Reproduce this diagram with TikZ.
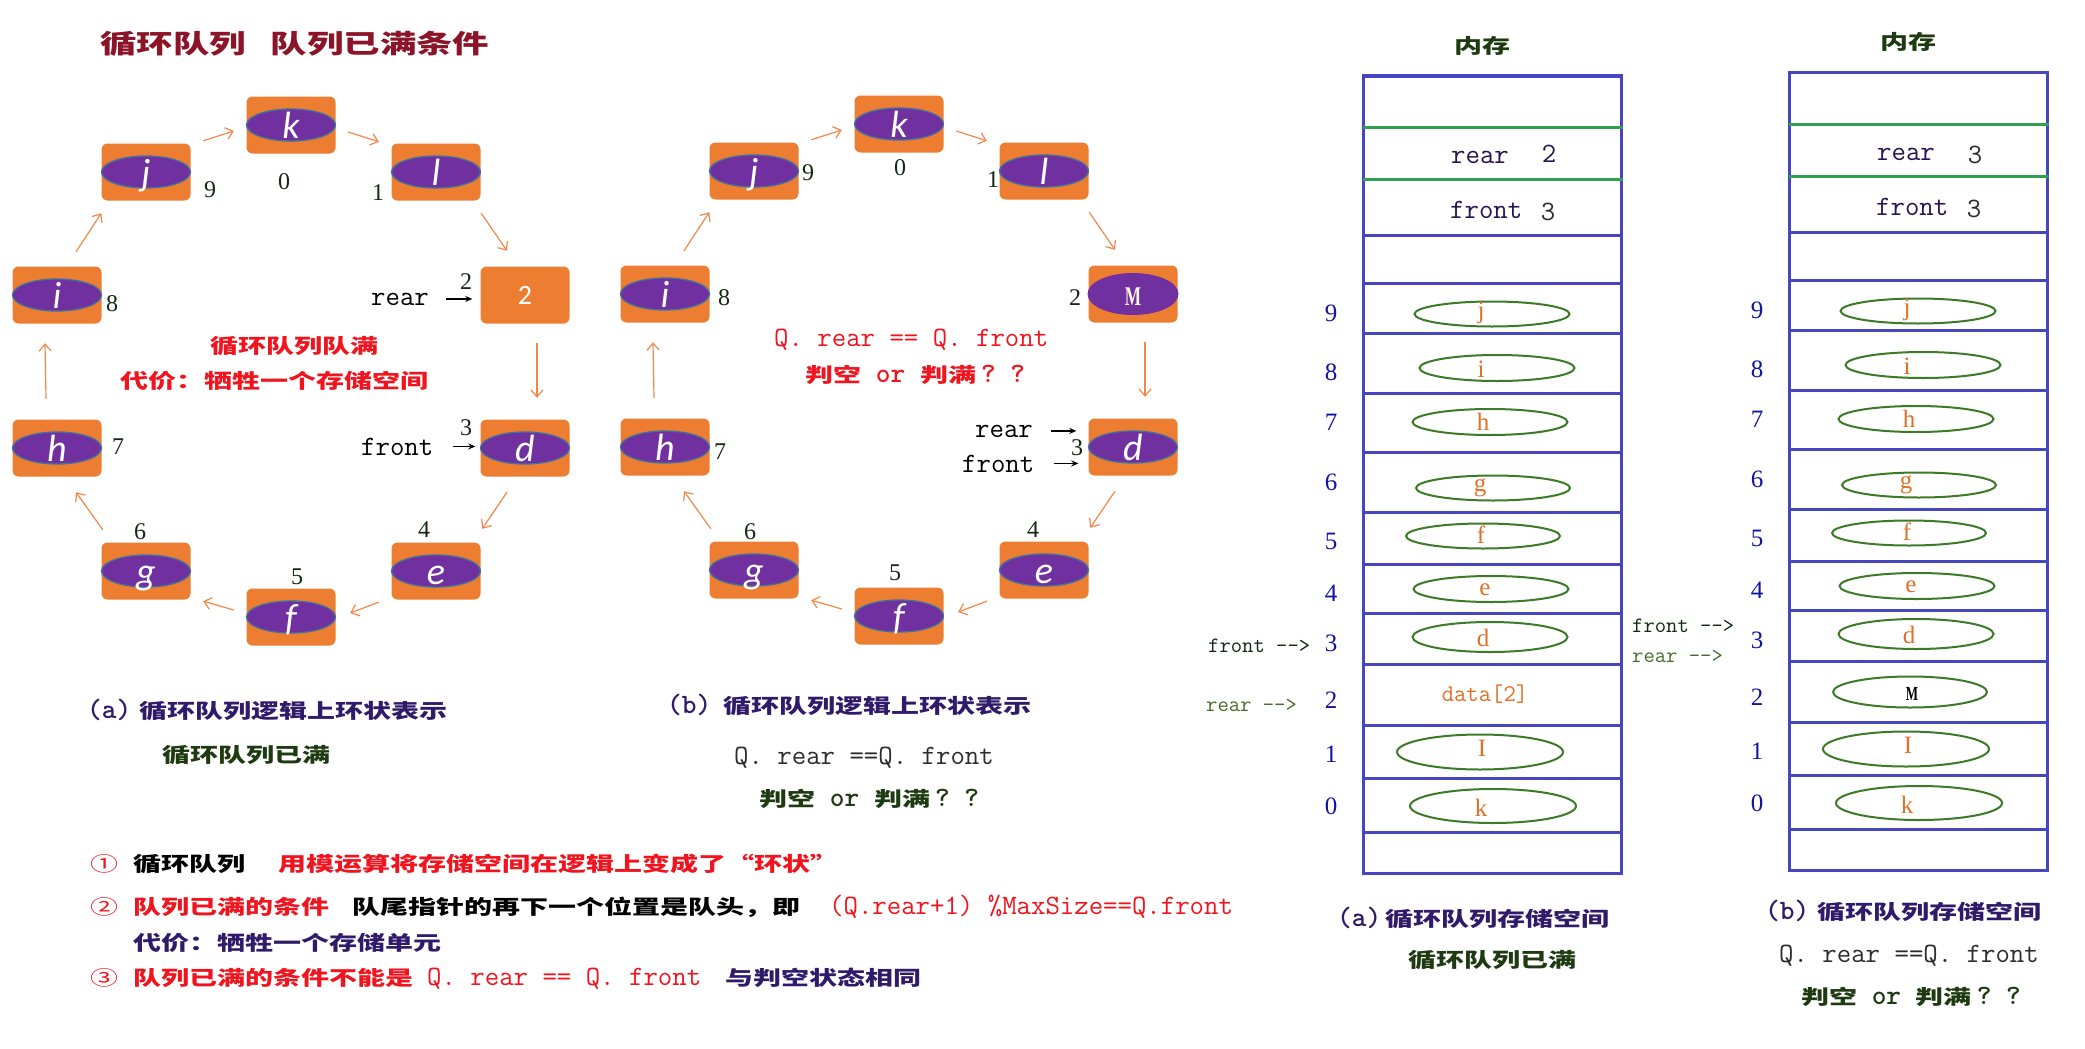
\documentclass[tikz,border=0pt]{standalone}
\usepackage{fontspec}
\setmainfont{Liberation Serif}
\newfontfamily\cjk{Noto Sans CJK SC}
\newfontfamily\carl{Carlito}
\usetikzlibrary{arrows.meta,calc,shapes.geometric}

\definecolor{orng}{RGB}{237,125,49}
\definecolor{purp}{RGB}{112,48,160}
\definecolor{pbord}{RGB}{65,113,156}
\definecolor{arrorng}{RGB}{240,136,74}
\definecolor{titlered}{RGB}{140,20,40}
\definecolor{brred}{RGB}{240,20,30}
\definecolor{navy}{RGB}{48,26,106}
\definecolor{dkgreen}{RGB}{30,58,16}
\definecolor{numgreen}{RGB}{20,40,20}
\definecolor{membl}{RGB}{70,70,190}
\definecolor{memgr}{RGB}{50,160,80}
\definecolor{ellgr}{RGB}{60,122,40}
\definecolor{letor}{RGB}{224,112,40}
\definecolor{idxbl}{RGB}{20,20,160}
\definecolor{mempur}{RGB}{40,20,80}
\definecolor{olive}{RGB}{75,107,46}
\definecolor{cream}{RGB}{255,245,220}
\definecolor{dkgray}{RGB}{45,45,45}

\newcommand\cjt[1]{\scalebox{1.4}[1]{#1}}
\newcommand\lt[1]{{\ttfamily\fontsize{28}{28}\selectfont #1}}
\newcommand\qq{\cjt{判空}\lt{~or~}\cjt{判满}\hspace{5pt}\lt{?~?}}

\tikzset{
  rbox/.style={fill=orng,rounded corners=6pt,minimum width=89pt,minimum height=57pt,inner sep=0pt},
  pell/.style={ellipse,fill=purp,draw=pbord,line width=1.3pt,minimum width=89pt,minimum height=32pt,inner sep=0pt},
  ringletter/.style={text=white,font=\carl\itshape\fontsize{38}{38}\selectfont,inner sep=0pt,anchor=base},
  ridx/.style={text=numgreen,font=\fontsize{24}{24}\selectfont,inner sep=0pt},
  rarr/.style={draw=arrorng,line width=1.2pt,-{Straight Barb[length=7pt,width=12pt]}},
  barr/.style={draw=black,line width=1.2pt,-{Stealth[length=7pt,width=6pt]}},
  lat/.style={font=\ttfamily\fontsize{28}{28}\selectfont,inner sep=0pt,anchor=base west},
  cj/.style={font=\cjk\bfseries\fontsize{20}{20}\selectfont,inner sep=0pt,anchor=base west},
  memline/.style={draw=membl,line width=3pt},
  memgreen/.style={draw=memgr,line width=3pt},
  memell/.style={draw=ellgr,line width=2pt},
  memletter/.style={text=letor,font=\fontsize{25}{25}\selectfont,inner sep=0pt,anchor=base},
  memidx/.style={text=idxbl,font=\fontsize{25}{25}\selectfont,inner sep=0pt},
  memtxt/.style={text=mempur,font=\ttfamily\fontsize{28}{28}\selectfont,inner sep=0pt,anchor=base west},
  ptr/.style={font=\ttfamily\fontsize{22}{22}\selectfont,inner sep=0pt,anchor=base west},
}

\newcommand\ringnode[4]{%
  \node[rbox] (#1) at (#2,#3) {};
  \node[pell] (#1e) at (#1) {};
  \node[ringletter] (#1t) at ($(#1)+(0,13)$) {#4};
}

\newcommand\ringarrows{%
  \draw[rarr] ($(n8.north)+(19,-14.5)$) -- ($(n9.south west)+(0,12.5)$);
  \draw[rarr] ($(n9.north east)+(12.5,-2.5)$) -- ($(n0.west)+(-12.5,6)$);
  \draw[rarr] ($(n0.east)+(12.5,7)$) -- ($(n1.north west)+(-12.5,-1.5)$);
  \draw[rarr] ($(n1.south east)+(0.5,12.5)$) -- ($(n2.north)+(-18,-15.5)$);
  \draw[rarr] ($(n2.south)+(12,19.5)$) -- ($(n3.north)+(12,-21.5)$);
  \draw[rarr] ($(n3.south)+(-18,15.5)$) -- ($(n4.north east)+(1.5,-13.5)$);
  \draw[rarr] ($(n4.south west)+(-12.5,2.5)$) -- ($(n5.east)+(14.5,-4)$);
  \draw[rarr] ($(n5.west)+(-12.5,-7)$) -- ($(n6.south east)+(12.5,1.5)$);
  \draw[rarr] ($(n6.north west)+(1.5,-12.5)$) -- ($(n7.south)+(19,15.5)$);
  \draw[rarr] ($(n7.north)+(-11,-20.5)$) -- ($(n8.south)+(-12,19.5)$);
}

\newcommand\memframe{%
  \draw[memline] (1363,76) rectangle (1621,873);
  \foreach \yy in {235,283,333,393,452,512,564,613,664,725,778,832} {\draw[memline] (1363,\yy) -- (1621,\yy);}
  \foreach \yy in {127,179} {\draw[memgreen] (1363,\yy) -- (1623,\yy);}
  \foreach \cx/\cy/\rx/\ry in {1492/314/77.5/12.5, 1497/368/77.5/13, 1490/422/77.5/13, 1493/488/77/12.5, 1483/536/77/12.5, 1491/589/77.5/13, 1490/637/77.5/15, 1480/752/83/17.5, 1493/806/83/17}
    {\draw[memell] (\cx,\cy) ellipse [x radius=\rx, y radius=\ry];}
  \foreach \lx/\ly/\lt/\nm in {1481/318/j/9, 1481/377/i/8, 1483/430/h/7, 1480/491/g/6, 1481/543/f/5, 1485/595/e/4, 1483/646/d/3, 1482/756/I/1, 1481/816/k/0}
    {\node[memletter] (let\nm) at (\lx,\ly) {\lt};}
  \foreach \iy/\d in {313/9, 372/8, 422/7, 482/6, 541/5, 593/4, 643/3, 700/2, 754/1, 806/0}
    {\node[memidx] (idx\d) at (1331,\iy) {\d};}
}

\begin{document}
\begin{tikzpicture}[x=1pt,y=-1pt]
\useasboundingbox (0,0) rectangle (2085,1049);
\fill[white] (0,0) rectangle (2085,1049);

% title
\node[cj,font=\cjk\bfseries\fontsize{26}{26}\selectfont,text=titlered] (title) at (100,54) {\cjt{循环队列}\hspace{25pt}\cjt{队列已满条件}};

% ---------- ring (a) ----------
\begin{scope}[name prefix=a-]
  \ringnode{n0}{291}{125}{k}
  \ringnode{n1}{436}{172}{l}
  \node[rbox] (n2) at (525,295) {};
  \node[text=white,font=\carl\fontsize{28}{28}\selectfont,inner sep=0pt,anchor=base] (n2t) at (525,304) {2};
  \ringnode{n3}{525}{448}{d}
  \ringnode{n4}{436}{571}{e}
  \ringnode{n5}{291}{617}{f}
  \ringnode{n6}{146}{571}{g}
  \ringnode{n7}{57}{448}{h}
  \ringnode{n8}{57}{295}{i}
  \ringnode{n9}{146}{172}{j}
  \ringarrows
  \foreach \ix/\iy/\d in {284/182/0, 378/193/1, 466/282/2, 466/428/3, 424/530/4, 297/577/5, 140/532/6, 118/447/7, 112/304/8, 210/190/9}
    {\node[ridx] (idx\d) at (\ix,\iy) {\d};}
  \node[lat] (rearlbl) at (371,305) {rear};
  \node[lat] (frontlbl) at (361,455) {front};
  \draw[barr,shorten <=17pt,shorten >=8pt] (rearlbl.east) -- (rearlbl.east -| n2.west);
  \draw[barr,shorten <=19pt,shorten >=5pt] (frontlbl.east) -- (frontlbl.east -| n3.west);
\end{scope}
\node[cj,text=brred] (fullA) at (210,353) {\cjt{循环队列队满}};
\node[cj,text=brred] (costA) at (120,388) {\cjt{代价：牺牲一个存储空间}};

% ---------- ring (b) ----------
\begin{scope}[shift={(608,-1)},name prefix=b-]
  \ringnode{n0}{291}{125}{k}
  \ringnode{n1}{436}{172}{l}
  \node[rbox] (n2) at (525,295) {};
  \node[ellipse,fill=purp,minimum width=91pt,minimum height=42pt,inner sep=0pt] (n2e) at (n2) {};
  \node[text=cream,font=\bfseries\fontsize{27}{27}\selectfont,inner sep=0pt,anchor=base] (n2t) at ($(n2)+(0,11)$) {\scalebox{0.64}[1]{M}};
  \ringnode{n3}{525}{448}{d}
  \ringnode{n4}{436}{571}{e}
  \ringnode{n5}{291}{617}{f}
  \ringnode{n6}{146}{571}{g}
  \ringnode{n7}{57}{448}{h}
  \ringnode{n8}{57}{295}{i}
  \ringnode{n9}{146}{172}{j}
  \ringarrows
  \foreach \ix/\iy/\d in {292/169/0, 385/181/1, 467/299/2, 469/449/3, 425/531/4, 287/574/5, 142/533/6, 112/453/7, 116/299/8, 200/174/9}
    {\node[ridx] (idx\d) at (\ix,\iy) {\d};}
  \node[lat] (rearlbl) at (367,438) {rear};
  \node[lat] (frontlbl) at (354,473) {front};
  \draw[barr,shorten <=18pt,shorten >=12pt] (rearlbl.east) -- (rearlbl.east -| n3.west);
  \draw[barr,shorten <=19pt,shorten >=10pt] (frontlbl.east) -- (frontlbl.east -| n3.west);
\end{scope}
\node[lat,text=brred] (eqB) at (774,346) {Q. rear == Q. front};
\node[cj,text=brred] (qB) at (805,382) {\qq};

% captions under rings
\node[cj,text=navy] (capA) at (87,718) {\lt{(a)}\hspace{8pt}\cjt{循环队列逻辑上环状表示}};
\node[cj,text=dkgreen] (fullA2) at (162,762) {\cjt{循环队列已满}};
\node[cj,text=navy] (capB) at (667,713) {\lt{(b)}\hspace{12pt}\cjt{循环队列逻辑上环状表示}};
\node[lat,text=dkgray] (eqB2) at (734,764) {Q. rear ==Q. front};
\node[cj,text=dkgreen] (qB2) at (759,806) {\qq};

% numbered notes
\node[cj,text=brred,font=\cjk\fontsize{20}{20}\selectfont] (c1) at (90,871) {\cjt{①}};
\node[cj] (l1a) at (133,871) {\cjt{循环队列}};
\node[cj,text=brred] (l1b) at (278,871) {\cjt{用模运算将存储空间在逻辑上变成了“环状”}};
\node[cj,text=brred,font=\cjk\fontsize{20}{20}\selectfont] (c2) at (90,914) {\cjt{②}};
\node[cj,text=brred] (l2a) at (133,914) {\cjt{队列已满的条件}};
\node[cj] (l2b) at (352,914) {\cjt{队尾指针的再下一个位置是队头，即}};
\node[lat,text=brred] (l2c) at (829,914) {(Q.rear+1) \%MaxSize==Q.front};
\node[cj,text=navy] (l3) at (133,950) {\cjt{代价：牺牲一个存储单元}};
\node[cj,text=brred,font=\cjk\fontsize{20}{20}\selectfont] (c3) at (90,985) {\cjt{③}};
\node[cj,text=brred] (l4a) at (133,985) {\cjt{队列已满的条件不能是}};
\node[lat,text=brred] (l4b) at (427,985) {Q. rear == Q. front};
\node[cj,text=navy] (l4c) at (725,985) {\cjt{与判空状态相同}};

% ---------- memory (a) ----------
\begin{scope}[name prefix=ma-]
  \memframe
  \node[text=letor,font=\ttfamily\fontsize{24}{24}\selectfont,inner sep=0pt,anchor=base] (data2) at (1485,701) {data[2]};
  \node[memtxt] (rearv) at (1451,163) {rear};
  \node[text=mempur,font=\ttfamily\fontsize{28}{28}\selectfont,inner sep=0pt,anchor=base] (rearn) at (1549,162) {2};
  \node[memtxt] (frontv) at (1450,218) {front};
  \node[text=dkgray,font=\ttfamily\fontsize{28}{28}\selectfont,inner sep=0pt,anchor=base] (frontn) at (1548,220) {3};
\end{scope}
\node[cj,text=dkgreen,anchor=base] (memA) at (1482,53) {\cjt{内存}};
\node[ptr,text=numgreen] (pfa) at (1208,652) {front -\kern0pt-\kern0pt>};
\node[ptr,text=olive] (pra) at (1206,711) {rear -\kern0pt-\kern0pt>};
\node[cj,text=navy] (capMA) at (1337,926) {\lt{(a)}\hspace{4pt}\cjt{循环队列存储空间}};
\node[cj,text=dkgreen,anchor=base] (fullMA) at (1492,967) {\cjt{循环队列已满}};

% ---------- memory (b) ----------
\begin{scope}[shift={(426,-3)},name prefix=mb-]
  \memframe
  \draw[memell] (1484,695) ellipse [x radius=77, y radius=15.5];
  \node[text=black,font=\bfseries\fontsize{20}{20}\selectfont,inner sep=0pt,anchor=base] (mlet) at (1486,703) {\scalebox{0.65}[1]{M}};
\end{scope}
\node[memtxt] (rearvb) at (1877,160) {rear};
\node[text=dkgray,font=\ttfamily\fontsize{28}{28}\selectfont,inner sep=0pt,anchor=base] (rearnb) at (1975,163) {3};
\node[memtxt] (frontvb) at (1876,215) {front};
\node[text=dkgray,font=\ttfamily\fontsize{28}{28}\selectfont,inner sep=0pt,anchor=base] (frontnb) at (1974,217) {3};
\node[cj,text=dkgreen,anchor=base] (memB) at (1908,50) {\cjt{内存}};
\node[ptr,text=numgreen] (pfb) at (1632,632) {front -\kern0pt-\kern0pt>};
\node[ptr,text=olive] (prb) at (1632,662) {rear -\kern0pt-\kern0pt>};
\node[cj,text=navy] (capMB) at (1765,919) {\lt{(b)}\hspace{8pt}\cjt{循环队列存储空间}};
\node[lat,text=dkgray,anchor=base] (eqMB) at (1909,962) {Q. rear ==Q. front};
\node[cj,text=dkgreen,anchor=base] (qMB) at (1911,1004) {\qq};
\end{tikzpicture}
\end{document}
